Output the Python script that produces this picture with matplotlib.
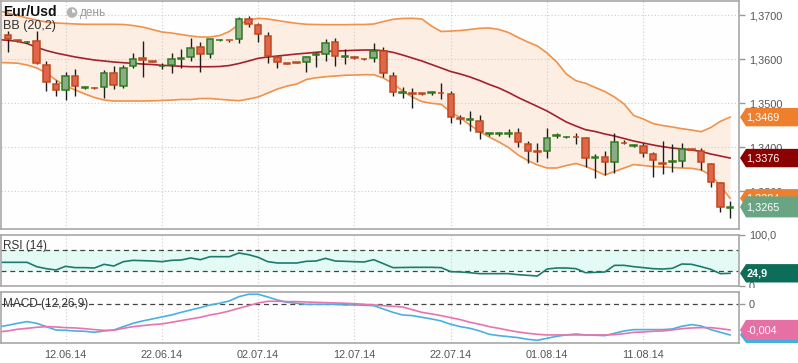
import numpy as np
import pandas as pd
import matplotlib
matplotlib.use("Agg")
from matplotlib import pyplot as plt
import matplotlib.dates as mdates
from matplotlib.patches import Rectangle, Polygon, Circle, Wedge
from matplotlib.ticker import FuncFormatter

plt.rcParams['font.family'] = ['Liberation Sans', 'DejaVu Sans']

# daily candles, 06.06.14 .. 20.08.14
days = pd.date_range("2014-06-06", "2014-08-20", freq="D")
opens = [1.36557, 1.36436, 1.36391, 1.36420, 1.35875, 1.35436, 1.35300, 1.35625, 1.35363, 1.35359,
         1.35368, 1.35686, 1.35391, 1.35852, 1.36027, 1.35959, 1.35845, 1.35875, 1.36011, 1.36050,
         1.36277, 1.36125, 1.36436, 1.36450, 1.36459, 1.36913, 1.36777, 1.36534, 1.36050, 1.35920,
         1.35943, 1.35936, 1.36102, 1.36118, 1.36391, 1.36057, 1.36050, 1.36018, 1.36027, 1.36193,
         1.35636, 1.35238, 1.35232, 1.35232, 1.35238, 1.35245, 1.35216, 1.34670, 1.34632, 1.34609,
         1.34307, 1.34307, 1.34307, 1.34323, 1.34073, 1.33913, 1.33920, 1.34272, 1.34232, 1.34245,
         1.34209, 1.33754, 1.33777, 1.33663, 1.34109, 1.34034, 1.34034, 1.33845, 1.33641, 1.33663,
         1.33700, 1.33966, 1.33927, 1.33618, 1.33186, 1.32630]
highs = [1.36647, 1.36454, 1.36413, 1.36654, 1.35972, 1.35534, 1.35716, 1.35777, 1.35391, 1.35368,
         1.35761, 1.35852, 1.35875, 1.36154, 1.36420, 1.35966, 1.35927, 1.36141, 1.36238, 1.36482,
         1.36391, 1.36466, 1.36459, 1.36454, 1.36972, 1.36988, 1.36822, 1.36618, 1.36086, 1.35927,
         1.35950, 1.36079, 1.36177, 1.36466, 1.36482, 1.36232, 1.36079, 1.36027, 1.36382, 1.36291,
         1.35722, 1.35368, 1.35345, 1.35245, 1.35284, 1.35472, 1.35284, 1.34738, 1.34829, 1.34738,
         1.34329, 1.34363, 1.34413, 1.34450, 1.34147, 1.34095, 1.34450, 1.34323, 1.34261, 1.34323,
         1.34232, 1.33852, 1.33927, 1.34323, 1.34170, 1.34079, 1.34095, 1.33904, 1.34147, 1.34079,
         1.34095, 1.33977, 1.33995, 1.33641, 1.33222, 1.32784]
lows = [1.36170, 1.36409, 1.36382, 1.35909, 1.35291, 1.35177, 1.35079, 1.35177, 1.35322, 1.35329,
        1.35118, 1.35329, 1.35345, 1.35800, 1.35609, 1.35932, 1.35777, 1.35700, 1.35800, 1.35972,
        1.35722, 1.36041, 1.36427, 1.36397, 1.36368, 1.36732, 1.36391, 1.35927, 1.35813, 1.35897,
        1.35920, 1.35722, 1.35836, 1.35972, 1.35859, 1.35891, 1.36004, 1.35995, 1.35950, 1.35595,
        1.35177, 1.35132, 1.34891, 1.35200, 1.35200, 1.35095, 1.34563, 1.34527, 1.34375, 1.34186,
        1.34254, 1.34272, 1.34245, 1.34018, 1.33654, 1.33677, 1.33768, 1.34209, 1.34216, 1.34073,
        1.33550, 1.33300, 1.33375, 1.33413, 1.34073, 1.34004, 1.33777, 1.33336, 1.33404, 1.33450,
        1.33563, 1.33932, 1.33488, 1.33109, 1.32541, 1.32391]
closes = [1.36459, 1.36420, 1.36404, 1.35920, 1.35482, 1.35300, 1.35618, 1.35404, 1.35382, 1.35341,
          1.35686, 1.35427, 1.35813, 1.36004, 1.35995, 1.35943, 1.35859, 1.36004, 1.36027, 1.36254,
          1.36118, 1.36459, 1.36450, 1.36432, 1.36913, 1.36800, 1.36572, 1.36086, 1.35936, 1.35904,
          1.35927, 1.36050, 1.36125, 1.36368, 1.36086, 1.36072, 1.36034, 1.36004, 1.36193, 1.35686,
          1.35254, 1.35254, 1.35216, 1.35216, 1.35254, 1.35232, 1.34700, 1.34647, 1.34647, 1.34345,
          1.34323, 1.34323, 1.34323, 1.34118, 1.33927, 1.33898, 1.34209, 1.34291, 1.34245, 1.34232,
          1.33754, 1.33777, 1.33663, 1.34118, 1.34095, 1.34050, 1.33868, 1.33709, 1.33625, 1.33693,
          1.33966, 1.33950, 1.33663, 1.33222, 1.32641, 1.32650]

# indicator lines start one day earlier (05.06.14)
ind_days = pd.date_range("2014-06-05", "2014-08-20", freq="D")
bb_upper = [1.37113, 1.37057, 1.37000, 1.36943, 1.36897, 1.36852, 1.36829, 1.36818, 1.36807, 1.36800,
            1.36800, 1.36800, 1.36800, 1.36795, 1.36772, 1.36738, 1.36682, 1.36625, 1.36602, 1.36568,
            1.36534, 1.36511, 1.36511, 1.36545, 1.36636, 1.36795, 1.36897, 1.36936, 1.36920, 1.36886,
            1.36852, 1.36822, 1.36800, 1.36795, 1.36791, 1.36791, 1.36791, 1.36795, 1.36795, 1.36807,
            1.36863, 1.36913, 1.36932, 1.36936, 1.36920, 1.36761, 1.36636, 1.36647, 1.36659, 1.36682,
            1.36709, 1.36716, 1.36682, 1.36613, 1.36500, 1.36397, 1.36307, 1.36147, 1.35943, 1.35670,
            1.35518, 1.35459, 1.35363, 1.35272, 1.35147, 1.34988, 1.34727, 1.34647, 1.34545, 1.34500,
            1.34466, 1.34427, 1.34397, 1.34359, 1.34454, 1.34595, 1.34690]
bb_mid = [1.36454, 1.36436, 1.36413, 1.36363, 1.36277, 1.36204, 1.36147, 1.36102, 1.36057, 1.36022,
          1.35988, 1.35966, 1.35943, 1.35927, 1.35913, 1.35897, 1.35886, 1.35868, 1.35857, 1.35845,
          1.35836, 1.35836, 1.35836, 1.35841, 1.35863, 1.35909, 1.35966, 1.36027, 1.36057, 1.36079,
          1.36102, 1.36125, 1.36143, 1.36163, 1.36182, 1.36193, 1.36200, 1.36209, 1.36216, 1.36216,
          1.36200, 1.36163, 1.36102, 1.36034, 1.35966, 1.35886, 1.35807, 1.35727, 1.35670, 1.35602,
          1.35522, 1.35432, 1.35352, 1.35250, 1.35136, 1.35034, 1.34932, 1.34829, 1.34704, 1.34579,
          1.34488, 1.34404, 1.34363, 1.34307, 1.34261, 1.34204, 1.34147, 1.34102, 1.34057, 1.34018,
          1.33988, 1.33966, 1.33943, 1.33909, 1.33852, 1.33807, 1.33760]
bb_lower = [1.35932, 1.35925, 1.35916, 1.35875, 1.35807, 1.35693, 1.35534, 1.35397, 1.35307, 1.35216,
            1.35136, 1.35079, 1.35057, 1.35057, 1.35057, 1.35057, 1.35061, 1.35068, 1.35079, 1.35091,
            1.35091, 1.35113, 1.35113, 1.35095, 1.35079, 1.35063, 1.35102, 1.35147, 1.35238, 1.35329,
            1.35397, 1.35443, 1.35545, 1.35584, 1.35609, 1.35625, 1.35641, 1.35647, 1.35654, 1.35654,
            1.35579, 1.35454, 1.35284, 1.35147, 1.35045, 1.35004, 1.34982, 1.34807, 1.34670, 1.34511,
            1.34359, 1.34238, 1.34125, 1.34000, 1.33829, 1.33704, 1.33602, 1.33534, 1.33534, 1.33591,
            1.33636, 1.33572, 1.33477, 1.33375, 1.33454, 1.33534, 1.33613, 1.33591, 1.33568, 1.33557,
            1.33545, 1.33534, 1.33527, 1.33488, 1.33375, 1.33125, 1.32845]
rsi = [46.4, 46.4, 46.4, 46.4, 37.9, 34.0, 31.4, 38.6, 36.0, 36.0,
       35.3, 42.5, 39.2, 47.7, 50.3, 49.7, 49.0, 47.7, 50.3, 51.0,
       54.9, 51.6, 57.5, 57.5, 57.5, 64.7, 61.4, 56.2, 47.7, 45.1,
       45.1, 45.1, 48.4, 49.0, 54.2, 49.0, 48.4, 47.7, 47.1, 51.6,
       43.8, 36.0, 36.3, 36.6, 36.6, 36.6, 36.0, 28.1, 27.5, 26.1,
       24.2, 24.2, 24.2, 24.2, 22.2, 20.9, 19.6, 33.3, 35.3, 35.3,
       34.0, 26.1, 26.8, 27.5, 40.5, 40.5, 37.9, 36.0, 34.0, 33.3,
       34.6, 43.1, 42.5, 37.9, 32.7, 24.2, 24.9]
macd = [-0.00353, -0.00327, -0.00296, -0.00270, -0.00296, -0.00348, -0.00400, -0.00405, -0.00415, -0.00420,
        -0.00436, -0.00415, -0.00400, -0.00348, -0.00296, -0.00259, -0.00228, -0.00197, -0.00166, -0.00125,
        -0.00088, -0.00052, -0.00010, 0.00016, 0.00052, 0.00119, 0.00156, 0.00156, 0.00114, 0.00067,
        0.00031, 0.00016, 0.00000, 0.00000, 0.00000, 0.00000, -0.00010, -0.00010, -0.00016, -0.00021,
        -0.00073, -0.00125, -0.00166, -0.00176, -0.00202, -0.00228, -0.00259, -0.00311, -0.00348, -0.00374,
        -0.00415, -0.00467, -0.00488, -0.00503, -0.00519, -0.00545, -0.00560, -0.00529, -0.00498, -0.00477,
        -0.00462, -0.00477, -0.00482, -0.00488, -0.00451, -0.00415, -0.00394, -0.00394, -0.00394, -0.00394,
        -0.00384, -0.00342, -0.00316, -0.00337, -0.00394, -0.00436, -0.00477]
macd_signal = [-0.00431, -0.00415, -0.00389, -0.00374, -0.00358, -0.00348, -0.00353, -0.00363, -0.00368, -0.00379,
               -0.00394, -0.00405, -0.00405, -0.00374, -0.00348, -0.00332, -0.00316, -0.00306, -0.00280, -0.00254,
               -0.00228, -0.00202, -0.00166, -0.00140, -0.00104, -0.00062, -0.00021, 0.00021, 0.00047, 0.00047,
               0.00042, 0.00042, 0.00036, 0.00031, 0.00026, 0.00021, 0.00016, 0.00010, 0.00000, -0.00010,
               -0.00021, -0.00031, -0.00042, -0.00083, -0.00125, -0.00150, -0.00176, -0.00208, -0.00239, -0.00280,
               -0.00311, -0.00348, -0.00374, -0.00405, -0.00431, -0.00451, -0.00467, -0.00477, -0.00477, -0.00477,
               -0.00477, -0.00477, -0.00477, -0.00477, -0.00472, -0.00457, -0.00436, -0.00431, -0.00420, -0.00415,
               -0.00399, -0.00379, -0.00368, -0.00363, -0.00363, -0.00379, -0.00399]

price_ticks = [1.33, 1.34, 1.35, 1.36, 1.37]
date_ticks = pd.to_datetime(["2014-06-12", "2014-06-22", "2014-07-02", "2014-07-12",
                             "2014-07-22", "2014-08-01", "2014-08-11"])

W, H = 798, 363
GRID = '#cccccc'
SPINE = '#a8a8a8'
RED_FILL, RED_EDGE = '#e0654a', '#bd4a1e'
GREEN_FILL, GREEN_EDGE = '#8aab88', '#2e7b1c'


def comma(v, pos=None, nd=4):
    return f"{v:.{nd}f}".replace(".", ",")


def panel(top, bottom):
    ax = fig.add_axes([1 / W, (H - bottom) / H, 738 / W, (bottom - top) / H])
    ax.set_facecolor('#fefefe')
    for s in ax.spines.values():
        s.set_color(SPINE)
        s.set_linewidth(1.2)
    ax.set_xlim(mdates.date2num(days[0]) - 0.706, mdates.date2num(days[-1]) + 0.93)
    ax.set_xticks(mdates.date2num(date_ticks))
    ax.xaxis.set_major_formatter(mdates.DateFormatter("%d.%m.%y"))
    ax.grid(True, axis='x', color=GRID, linestyle=(0, (1, 2)), lw=0.8)
    ax.tick_params(axis='x', length=0, labelbottom=False, labelsize=7.8, labelcolor='#555555', pad=5)
    ax.yaxis.tick_right()
    ax.tick_params(axis='y', length=4, width=1, color='#999999', labelsize=7.8,
                   labelcolor='#555555', pad=3)
    ax.set_axisbelow(True)
    return ax


fig = plt.figure(figsize=(W / 100, H / 100), dpi=100)

###
### price panel
###
ax = panel(1, 229)
ax.set_ylim(1.321477, 1.373295)
ax.set_yticks(price_ticks)
ax.yaxis.set_major_formatter(FuncFormatter(comma))
ax.grid(True, axis='y', color=GRID, linestyle=(0, (1, 2)), lw=0.8)

ix = mdates.date2num(ind_days)
ax.fill_between(ix, bb_lower, bb_upper, color='#fdeee4', lw=0, zorder=0.5)
ax.plot(ix, bb_upper, color='#f0924a', lw=1.2, zorder=1)
ax.plot(ix, bb_lower, color='#f0924a', lw=1.2, zorder=1)
ax.plot(ix, bb_mid, color='#a5202c', lw=1.2, zorder=1)

xs = mdates.date2num(days)
ax.vlines(xs, lows, highs, color='#1c1c1c', lw=1.0, zorder=2)
for x, o, c in zip(xs, opens, closes):
    up = c >= o
    edge = GREEN_EDGE if up else RED_EDGE
    fill = GREEN_FILL if up else RED_FILL
    if abs(c - o) < 0.0003:
        fill = edge
    ax.add_patch(Rectangle((x - 0.34, min(o, c)), 0.68, abs(c - o),
                           fc=fill, ec=edge, lw=1.1, zorder=3))

###
### rsi panel
###
ax_rsi = panel(235, 286)
ax_rsi.set_ylim(0, 100)
ax_rsi.set_yticks([0, 100])
ax_rsi.set_yticklabels(["0", "100,0"])
ax_rsi.axhspan(30, 70, color='#e4fbf5', lw=0, zorder=0.5)
ax_rsi.axhline(70, color='#444444', lw=0.9, ls=(0, (4, 3)), zorder=1)
ax_rsi.axhline(30, color='#444444', lw=0.9, ls=(0, (4, 3)), zorder=1)
ax_rsi.plot(ix, rsi, color='#1e7b6b', lw=1.2, zorder=2)

###
### macd panel
###
ax_macd = panel(292, 343)
ax_macd.set_ylim(-0.006023, 0.001914)
ax_macd.set_yticks([0])
ax_macd.set_yticklabels(["0"])
ax_macd.axhline(0, color='#444444', lw=0.9, ls=(0, (4, 3)), zorder=1)
ax_macd.plot(ix, macd, color='#4ab0e0', lw=1.2, zorder=2)
ax_macd.plot(ix, macd_signal, color='#e874ae', lw=1.2, zorder=2)
ax_macd.tick_params(axis='x', labelbottom=True)

###
### overlay: titles and value tags (pixel coords)
###
ov = fig.add_axes([0, 0, 1, 1], zorder=10)
ov.set_xlim(0, W)
ov.set_ylim(H, 0)
ov.axis('off')

ov.text(3, 12.5, "Eur/Usd", fontsize=10, fontweight='bold', color='#111111', va='center')
ov.add_patch(Circle((72, 12.5), 4.6, fc='#b3b3b3', ec='#b3b3b3', lw=1))
ov.add_patch(Wedge((72, 12.5), 3.4, 270, 360, fc='white', ec='none'))
ov.text(80, 13, "день", fontsize=8.5, color='#9a9a9a', va='center')
ov.text(3, 26.5, "BB (20,2)", fontsize=9, color='#333333', va='center')
ov.text(3, 246, "RSI (14)", fontsize=8.5, color='#333333', va='center')
ov.text(3, 304, "MACD (12,26,9)", fontsize=8.5, color='#333333', va='center')

# hide lower half of the rsi "0" label like the original
ov.add_patch(Rectangle((741, 288), 57, 4, fc='white', ec='none', zorder=5))

tag_z = [10]


def tag(src, value, color, text, half=9.2, bottom_px=None, bold=False):
    # each tag gets its own layer so a later tag hides the text of an earlier one
    tag_z[0] += 1
    yc = H - src.transData.transform((0, value))[1]
    top, bot = yc - half, yc + half
    if bottom_px is not None:
        bot = min(bot, bottom_px)
    ov.add_patch(Polygon([(740, yc), (746, top), (798, top), (798, bot), (746, bot)],
                         closed=True, fc=color, ec='none', zorder=tag_z[0]))
    ov.text(746.5, yc + 0.5, text, fontsize=7.8, color='white', va='center',
            fontweight='bold' if bold else 'normal', zorder=tag_z[0] + 0.5)


tag(ax, bb_upper[-1], '#ee7f2d', comma(bb_upper[-1]))
tag(ax, bb_mid[-1], '#8b0000', comma(bb_mid[-1]))
tag(ax, bb_lower[-1], '#ee7f2d', comma(bb_lower[-1]))
tag(ax, closes[-1], '#6aa583', comma(closes[-1]), half=10.5)
tag(ax_rsi, rsi[-1], '#0e6d59', comma(rsi[-1], nd=1), bold=True)
tag(ax_macd, macd[-1], '#45aee0', "", bottom_px=343)
tag(ax_macd, macd_signal[-1], '#e66fa5', comma(macd_signal[-1], nd=3), half=10)

plt.savefig('out.png', dpi=100)
